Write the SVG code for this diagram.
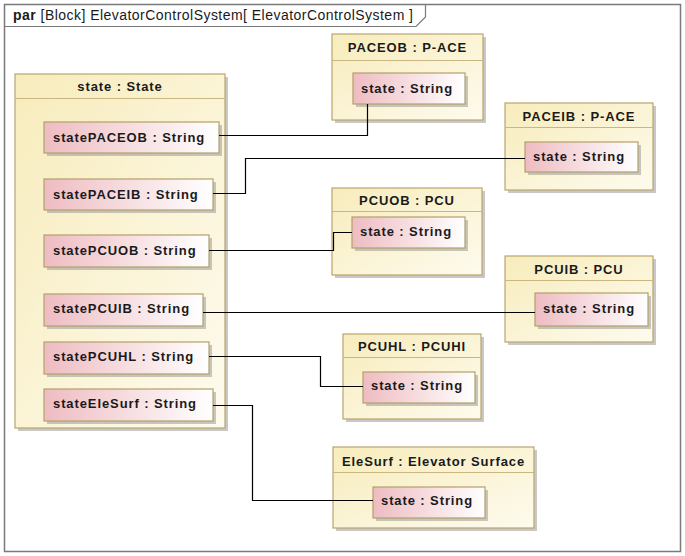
<svg xmlns="http://www.w3.org/2000/svg" width="685" height="556" viewBox="0 0 685 556">
<defs>
<linearGradient id="gY" x1="0" y1="0" x2="1" y2="1">
<stop offset="0" stop-color="#f7ecbc"/>
<stop offset="1" stop-color="#fefbee"/>
</linearGradient>
<linearGradient id="gP" x1="0" y1="0" x2="1" y2="0">
<stop offset="0" stop-color="#eebcc2"/>
<stop offset="1" stop-color="#ffffff"/>
</linearGradient>
</defs>
<style>
.blk{fill:url(#gY);stroke:#b9a56c;stroke-width:1.2}
.prt{fill:url(#gP);stroke:#b3a06a;stroke-width:1.2}
.sh{fill:#9a9a9a;opacity:0.55}
.hl{stroke:#c9b77f;stroke-width:1}
.t{font-family:"Liberation Sans",Arial,sans-serif;font-size:13px;font-weight:bold;fill:#1a1a1a;letter-spacing:0.9px}
.c{text-anchor:middle}
.con{fill:none;stroke:#000;stroke-width:1.2}
</style>
<rect x="0" y="0" width="685" height="556" fill="#fff"/>
<g id="frame">
<rect x="4.5" y="4.5" width="676" height="547" fill="#fff" stroke="#7a7a7a" stroke-width="1.5"/>
<path d="M4.5,26.5 H416 L425.5,17 V4.5" fill="none" stroke="#7a7a7a" stroke-width="1.2"/>
<text x="13" y="20" font-family="'Liberation Sans',Arial,sans-serif" font-size="14" fill="#1a1a1a" textLength="400" lengthAdjust="spacing"><tspan font-weight="bold">par</tspan>  [Block] ElevatorControlSystem[ ElevatorControlSystem ]</text>
</g>
<g id="state">
<rect class="sh" x="18" y="77" width="210" height="354"/>
<rect class="blk" x="15" y="74" width="210" height="354"/>
<line class="hl" x1="15" y1="98.5" x2="225" y2="98.5"/>
<text class="t c" x="120" y="91">state : State</text>
<g id="statePACEOB">
<rect class="sh" x="47" y="125" width="175" height="31"/>
<rect class="prt" x="44" y="122" width="175" height="31"/>
<text class="t" x="53" y="142">statePACEOB : String</text>
</g>
<g id="statePACEIB">
<rect class="sh" x="47" y="182" width="169" height="31"/>
<rect class="prt" x="44" y="179" width="169" height="31"/>
<text class="t" x="53" y="199">statePACEIB : String</text>
</g>
<g id="statePCUOB">
<rect class="sh" x="47" y="238" width="165" height="32"/>
<rect class="prt" x="44" y="235" width="165" height="32"/>
<text class="t" x="53" y="255">statePCUOB : String</text>
</g>
<g id="statePCUIB">
<rect class="sh" x="47" y="297" width="159" height="32"/>
<rect class="prt" x="44" y="294" width="159" height="32"/>
<text class="t" x="53" y="313">statePCUIB : String</text>
</g>
<g id="statePCUHL">
<rect class="sh" x="47" y="345" width="165" height="32"/>
<rect class="prt" x="44" y="342" width="165" height="32"/>
<text class="t" x="53" y="361">statePCUHL : String</text>
</g>
<g id="stateEleSurf">
<rect class="sh" x="47" y="392" width="169" height="32"/>
<rect class="prt" x="44" y="389" width="169" height="32"/>
<text class="t" x="53" y="408">stateEleSurf : String</text>
</g>
</g>
<g id="PACEOB">
<rect class="sh" x="335" y="37" width="151" height="86"/>
<rect class="blk" x="332" y="34" width="151" height="86"/>
<line class="hl" x1="332" y1="60.5" x2="483" y2="60.5"/>
<text class="t c" x="407.5" y="52">PACEOB : P-ACE</text>
<rect class="sh" x="356" y="76" width="112" height="31"/>
<rect class="prt" x="353" y="73" width="112" height="31"/>
<text class="t" x="361" y="93">state : String</text>
</g>
<g id="PACEIB">
<rect class="sh" x="508" y="106" width="148" height="87"/>
<rect class="blk" x="505" y="103" width="148" height="87"/>
<line class="hl" x1="505" y1="127.5" x2="653" y2="127.5"/>
<text class="t c" x="579" y="121">PACEIB : P-ACE</text>
<rect class="sh" x="528" y="145" width="113" height="30"/>
<rect class="prt" x="525" y="142" width="113" height="30"/>
<text class="t" x="533" y="161">state : String</text>
</g>
<g id="PCUOB">
<rect class="sh" x="335" y="191" width="150" height="87"/>
<rect class="blk" x="332" y="188" width="150" height="87"/>
<line class="hl" x1="332" y1="211.5" x2="482" y2="211.5"/>
<text class="t c" x="407" y="205">PCUOB : PCU</text>
<rect class="sh" x="355" y="220" width="113" height="31"/>
<rect class="prt" x="352" y="217" width="113" height="31"/>
<text class="t" x="360" y="236">state : String</text>
</g>
<g id="PCUIB">
<rect class="sh" x="508" y="259" width="148" height="86"/>
<rect class="blk" x="505" y="256" width="148" height="86"/>
<line class="hl" x1="505" y1="280.5" x2="653" y2="280.5"/>
<text class="t c" x="579" y="274">PCUIB : PCU</text>
<rect class="sh" x="538" y="296" width="113" height="33"/>
<rect class="prt" x="535" y="293" width="113" height="33"/>
<text class="t" x="543" y="313">state : String</text>
</g>
<g id="PCUHL">
<rect class="sh" x="346" y="337" width="138" height="85"/>
<rect class="blk" x="343" y="334" width="138" height="85"/>
<line class="hl" x1="343" y1="357.5" x2="481" y2="357.5"/>
<text class="t c" x="412" y="351">PCUHL : PCUHI</text>
<rect class="sh" x="366" y="375" width="112" height="31"/>
<rect class="prt" x="363" y="372" width="112" height="31"/>
<text class="t" x="371" y="390">state : String</text>
</g>
<g id="EleSurf">
<rect class="sh" x="336" y="450" width="201" height="81"/>
<rect class="blk" x="333" y="447" width="201" height="81"/>
<line class="hl" x1="333" y1="472.5" x2="534" y2="472.5"/>
<text class="t c" x="433.5" y="466">EleSurf : Elevator Surface</text>
<rect class="sh" x="376" y="490" width="112" height="31"/>
<rect class="prt" x="373" y="487" width="112" height="31"/>
<text class="t" x="381" y="505">state : String</text>
</g>
<g id="connectors">
<path class="con" d="M219,135.5 H367.5 V104"/>
<path class="con" d="M213,193.5 H245.5 V158.5 H525"/>
<path class="con" d="M209,250.5 H333.5 V232.5 H352"/>
<path class="con" d="M203,312.5 H535"/>
<path class="con" d="M209,356.5 H320.5 V386.5 H363"/>
<path class="con" d="M213,405.5 H252.5 V500.5 H373"/>
</g>
</svg>
